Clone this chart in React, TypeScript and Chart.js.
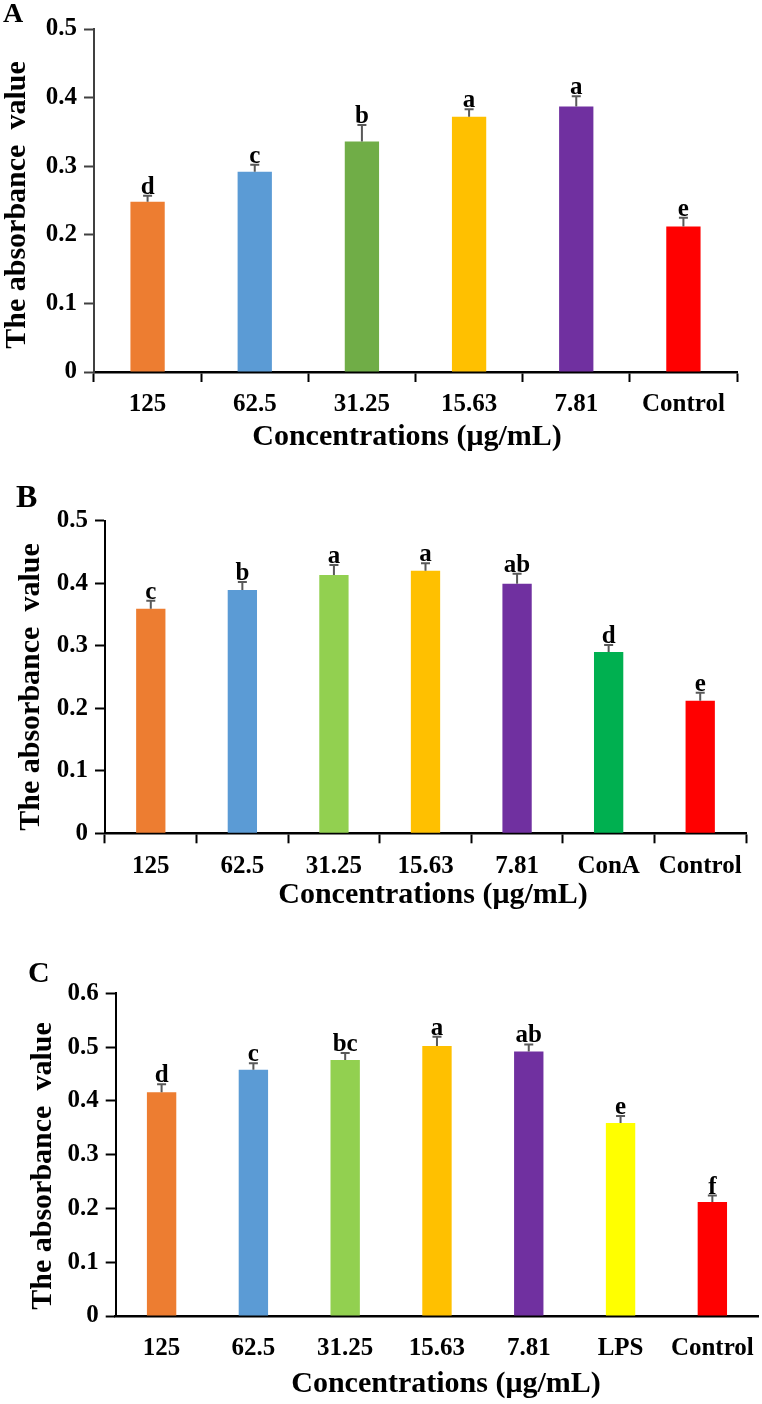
import React, { useEffect, useRef } from 'react';
import { Chart, registerables } from 'chart.js';

Chart.register(...registerables);

const SERIF = '"Liberation Serif", "Times New Roman", serif';

// Panel A: proliferation without mitogen
const categoriesA = ['125', '62.5', '31.25', '15.63', '7.81', 'Control'];
const meansA = [0.248, 0.292, 0.336, 0.372, 0.387, 0.212];
const errorsA = [0.009, 0.010, 0.024, 0.011, 0.015, 0.013];
const lettersA = ['d', 'c', 'b', 'a', 'a', 'e'];
const colorsA = ['#ED7D31', '#5B9BD5', '#70AD47', '#FFC000', '#7030A0', '#FF0000'];

// Panel B: with ConA
const categoriesB = ['125', '62.5', '31.25', '15.63', '7.81', 'ConA', 'Control'];
const meansB = [0.359, 0.389, 0.413, 0.420, 0.399, 0.290, 0.212];
const errorsB = [0.013, 0.013, 0.016, 0.012, 0.016, 0.011, 0.013];
const lettersB = ['c', 'b', 'a', 'a', 'ab', 'd', 'e'];
const colorsB = ['#ED7D31', '#5B9BD5', '#92D050', '#FFC000', '#7030A0', '#00B050', '#FF0000'];

// Panel C: with LPS
const categoriesC = ['125', '62.5', '31.25', '15.63', '7.81', 'LPS', 'Control'];
const meansC = [0.416, 0.458, 0.476, 0.502, 0.492, 0.359, 0.212];
const errorsC = [0.015, 0.012, 0.013, 0.017, 0.013, 0.013, 0.012];
const lettersC = ['d', 'c', 'bc', 'a', 'ab', 'e', 'f'];
const colorsC = ['#ED7D31', '#5B9BD5', '#92D050', '#FFC000', '#7030A0', '#FFFF00', '#FF0000'];

const yTicksA = { max: 0.5, step: 0.1 };
const yTicksB = { max: 0.5, step: 0.1 };
const yTicksC = { max: 0.6, step: 0.1 };

const Y_TITLE = 'The absorbance  value';
const X_TITLE = 'Concentrations (\u03bcg/mL)';

type PanelProps = {
  top: number;
  height: number;
  area: { left: number; right: number; top: number; bottom: number };
  labels: string[];
  values: number[];
  errors: number[];
  letters: string[];
  colors: string[];
  yMax: number;
  yStep: number;
  tag: string;
  tagPos: { x: number; y: number; size: number };
  yTitlePos: { x: number; y: number };
  xTitlePos: { x: number; y: number };
  xTicks: boolean;
  yAxisColor: string;
};

const WIDTH = 762;

function BarPanel(p: PanelProps) {
  const ref = useRef<HTMLCanvasElement | null>(null);

  useEffect(() => {
    if (!ref.current) return;
    const a = p.area;

    const annotations = {
      id: 'annotations',
      afterDatasetsDraw(chart: any) {
        const ctx = chart.ctx;
        const yScale = chart.scales.y;
        const meta = chart.getDatasetMeta(0);
        ctx.save();
        meta.data.forEach((bar: any, i: number) => {
          const x = bar.x;
          const yBar = bar.y;
          const yErr = yScale.getPixelForValue(p.values[i] + p.errors[i]);
          ctx.strokeStyle = '#595959';
          ctx.lineWidth = 2;
          ctx.beginPath();
          ctx.moveTo(x, yBar);
          ctx.lineTo(x, yErr);
          ctx.moveTo(x - 4.5, yErr);
          ctx.lineTo(x + 4.5, yErr);
          ctx.stroke();
          ctx.fillStyle = '#000';
          ctx.font = `bold 25px ${SERIF}`;
          ctx.textAlign = 'center';
          ctx.textBaseline = 'alphabetic';
          ctx.fillText(p.letters[i], x, yErr - 2);
        });
        ctx.restore();
      },
      afterDraw(chart: any) {
        const ctx = chart.ctx;
        ctx.save();
        ctx.fillStyle = '#000';
        ctx.textBaseline = 'alphabetic';
        // panel tag
        ctx.font = `bold ${p.tagPos.size}px ${SERIF}`;
        ctx.textAlign = 'left';
        ctx.fillText(p.tag, p.tagPos.x, p.tagPos.y);
        // x title
        ctx.font = `bold 30px ${SERIF}`;
        ctx.textAlign = 'center';
        ctx.fillText(X_TITLE, p.xTitlePos.x, p.xTitlePos.y);
        // y title
        ctx.translate(p.yTitlePos.x, p.yTitlePos.y);
        ctx.rotate(-Math.PI / 2);
        ctx.textBaseline = 'middle';
        ctx.fillText(Y_TITLE, 0, 0);
        ctx.restore();
      },
    };

    const font = { family: SERIF, size: 25, weight: 'bold' as const };

    const chart = new Chart(ref.current, {
      type: 'bar',
      data: {
        labels: p.labels,
        datasets: [
          {
            data: p.values,
            backgroundColor: p.colors,
            borderWidth: 0,
            barPercentage: 0.32,
            categoryPercentage: 1,
          },
        ],
      },
      options: {
        animation: false,
        responsive: false,
        devicePixelRatio: 1,
        layout: { padding: { top: a.top, right: WIDTH - a.right, left: 0, bottom: 0 } },
        plugins: {
          legend: { display: false },
          tooltip: { enabled: false },
        },
        scales: {
          x: {
            grid: {
              offset: true,
              drawOnChartArea: false,
              tickLength: 10,
              tickWidth: 2,
              tickColor: p.xTicks ? '#000' : 'rgba(0,0,0,0)',
            },
            border: { display: true, color: '#000', width: 2.5 },
            ticks: { font, color: '#000', padding: 8, maxRotation: 0, autoSkip: false },
            afterFit: (s: any) => {
              s.height = p.height - a.bottom;
            },
          },
          y: {
            min: 0,
            max: p.yMax,
            grid: { drawOnChartArea: false, tickLength: 10, tickWidth: 2, tickColor: p.yAxisColor },
            border: { display: true, color: p.yAxisColor, width: 2 },
            ticks: {
              stepSize: p.yStep,
              font,
              color: '#000',
              padding: 7,
              callback: (v: any) => (Number(v) === 0 ? '0' : Number(v).toFixed(1)),
            },
            afterFit: (s: any) => {
              s.width = a.left;
            },
          },
        },
      },
      plugins: [annotations],
    });
    return () => chart.destroy();
  }, []);

  return (
    <canvas
      ref={ref}
      width={WIDTH}
      height={p.height}
      style={{ position: 'absolute', left: 0, top: p.top, width: WIDTH, height: p.height }}
    />
  );
}

export default function App() {
  return (
    <div style={{ position: 'absolute', left: 0, top: 0, width: WIDTH, height: 1404, background: '#fff' }}>
      <BarPanel
        top={0}
        height={460}
        area={{ left: 94, right: 737, top: 29, bottom: 372 }}
        labels={categoriesA}
        values={meansA}
        errors={errorsA}
        letters={lettersA}
        colors={colorsA}
        yMax={yTicksA.max}
        yStep={yTicksA.step}
        tag="A"
        tagPos={{ x: 3, y: 22, size: 28 }}
        yTitlePos={{ x: 17, y: 205 }}
        xTitlePos={{ x: 407, y: 445 }}
        xTicks={true}
        yAxisColor="#404040"
      />
      <BarPanel
        top={460}
        height={460}
        area={{ left: 105, right: 746, top: 60.7, bottom: 373.3 }}
        labels={categoriesB}
        values={meansB}
        errors={errorsB}
        letters={lettersB}
        colors={colorsB}
        yMax={yTicksB.max}
        yStep={yTicksB.step}
        tag="B"
        tagPos={{ x: 16, y: 47, size: 32 }}
        yTitlePos={{ x: 31, y: 227 }}
        xTitlePos={{ x: 433, y: 443 }}
        xTicks={true}
        yAxisColor="#000"
      />
      <BarPanel
        top={920}
        height={484}
        area={{ left: 115.7, right: 759, top: 73.3, bottom: 396 }}
        labels={categoriesC}
        values={meansC}
        errors={errorsC}
        letters={lettersC}
        colors={colorsC}
        yMax={yTicksC.max}
        yStep={yTicksC.step}
        tag="C"
        tagPos={{ x: 28, y: 62, size: 30 }}
        yTitlePos={{ x: 43, y: 246 }}
        xTitlePos={{ x: 446, y: 472 }}
        xTicks={false}
        yAxisColor="#000"
      />
    </div>
  );
}
